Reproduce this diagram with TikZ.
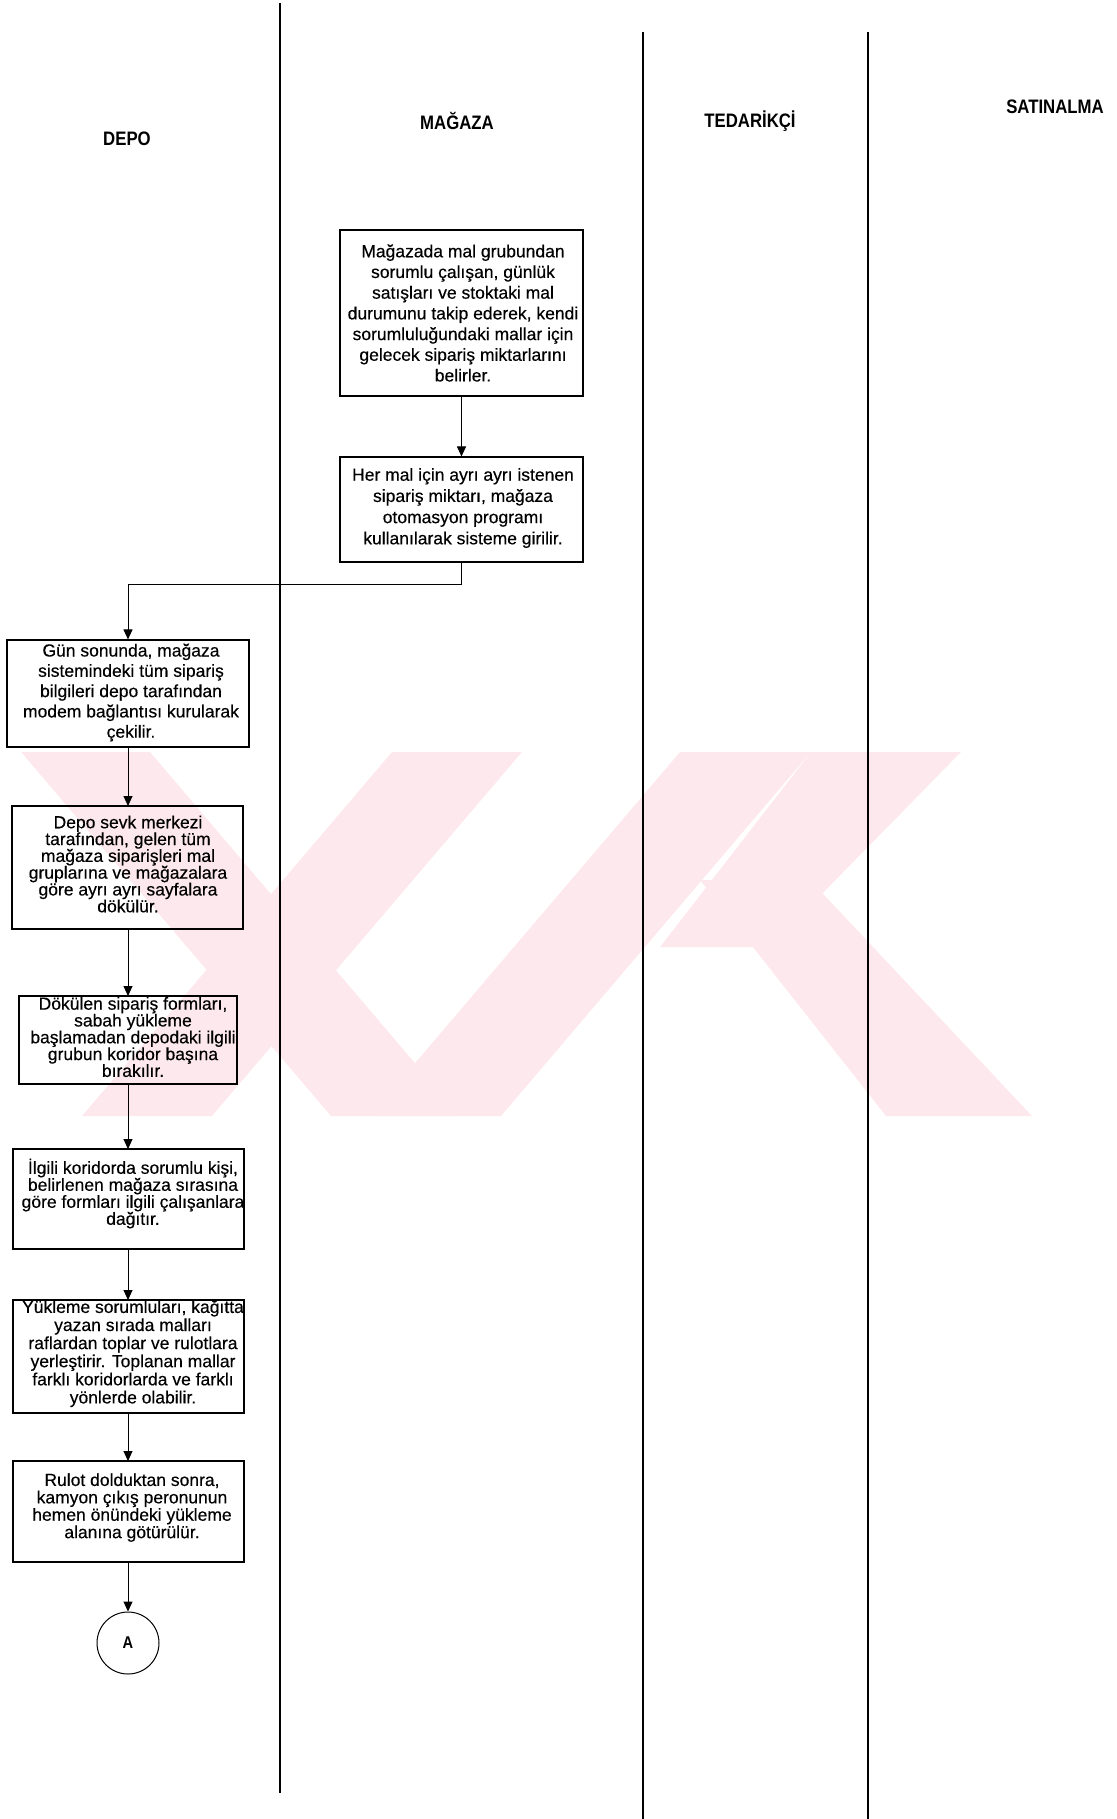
\documentclass[tikz,border=0pt]{standalone}
\usepackage{fontspec}
\setmainfont{Liberation Sans}
\newfontfamily\boxfont[FakeBold=0.35]{Liberation Sans}
\newfontfamily\headfont[FakeStretch=0.86]{Liberation Sans Bold}
\usetikzlibrary{arrows.meta}

\definecolor{wmpink}{RGB}{253,233,237}

\tikzset{
  lane/.style={line width=1.3pt, black},
  lanehead/.style={font=\headfont\fontsize{19.5}{21}\selectfont, inner sep=0pt},
  procbox/.style={draw, line width=1.1pt, rectangle, inner sep=0pt},
  boxtext/.style={align=center, inner sep=0pt, font=\boxfont\fontsize{17.5}{#1}\selectfont},
  boxtext/.default=20.5,
  flow/.style={line width=1.0pt, -{Triangle[length=10pt,width=9pt]}},
  connector/.style={draw, circle, line width=1.0pt, minimum size=62pt, inner sep=0pt, font=\headfont\fontsize{17}{19}\selectfont},
}

\begin{document}
\begin{tikzpicture}[x=1pt, y=-1pt]
\useasboundingbox (0,0) rectangle (1116,1819);

% faint background emblem
\begin{scope}[fill=wmpink]
  \fill (21,752) -- (150,752) -- (460,1116) -- (331,1116) -- cycle;
  \fill (392,752) -- (522,752) -- (212,1116) -- (82,1116) -- cycle;
  \fill (680,752) -- (811,752) -- (501,1116) -- (370,1116) -- cycle;
  \fill (811,752) -- (961,752) -- (770,947) -- (660,947) -- cycle;
  \fill (700,880) -- (810,880) -- (1032,1116) -- (886,1116) -- cycle;
\end{scope}

% swimlane separators
\coordinate (l1t) at (280,3);   \coordinate (l1b) at (280,1793);
\coordinate (l2t) at (643,32);  \coordinate (l2b) at (643,1819);
\coordinate (l3t) at (868,32);  \coordinate (l3b) at (868,1819);
\draw[lane] (l1t) -- (l1b);
\draw[lane] (l2t) -- (l2b);
\draw[lane] (l3t) -- (l3b);

% lane titles
\node[lanehead] (hdepo) at (127,139) {DEPO};
\node[lanehead] (hmagaza) at (457,121) {MAĞAZA};
\node[lanehead] (htedarikci) at (750,121) {TEDARİKÇİ};
\node[lanehead] (hsatinalma) at (1055,107) {SATINALMA};

% MAĞAZA lane
\node[procbox, minimum width=243pt, minimum height=166pt] (m1) at (461.5,313) {};
\node[boxtext=20.7] (m1t) at (463,313) {Mağazada mal grubundan\\sorumlu çalışan, günlük\\satışları ve stoktaki mal\\durumunu takip ederek, kendi\\sorumluluğundaki mallar için\\gelecek sipariş miktarlarını\\belirler.};

\node[procbox, minimum width=243pt, minimum height=105pt] (m2) at (461.5,509.5) {};
\node[boxtext=21.2] (m2t) at (463,508) {Her mal için ayrı ayrı istenen\\sipariş miktarı, mağaza\\otomasyon programı\\kullanılarak sisteme girilir.};

% DEPO lane
\node[procbox, minimum width=242pt, minimum height=107pt] (d1) at (128,693.5) {};
\node[boxtext=20.3] (d1t) at (131,692.5) {Gün sonunda, mağaza\\sistemindeki tüm sipariş\\bilgileri depo tarafından\\modem bağlantısı kurularak\\çekilir.};

\node[procbox, minimum width=231pt, minimum height=123pt] (d2) at (127.5,867.5) {};
\node[boxtext=16.8] (d2t) at (128,864) {Depo sevk merkezi\\tarafından, gelen tüm\\mağaza siparişleri mal\\gruplarına ve mağazalara\\göre ayrı ayrı sayfalara\\dökülür.};

\node[procbox, minimum width=218pt, minimum height=88pt] (d3) at (128,1040) {};
\node[boxtext=16.8] (d3t) at (133,1037) {Dökülen sipariş formları,\\sabah yükleme\\başlamadan depodaki ilgili\\grubun koridor başına\\bırakılır.};

\node[procbox, minimum width=231pt, minimum height=100pt] (d4) at (128.5,1199) {};
\node[boxtext=17] (d4t) at (133,1193.5) {İlgili koridorda sorumlu kişi,\\belirlenen mağaza sırasına\\göre formları ilgili çalışanlara\\dağıtır.};

\node[procbox, minimum width=231pt, minimum height=113pt] (d5) at (128.5,1356.5) {};
\node[boxtext=18.1] (d5t) at (133,1353.5) {Yükleme sorumluları, kağıtta\\yazan sırada malları\\raflardan toplar ve rulotlara\\yerleştirir. Toplanan mallar\\farklı koridorlarda ve farklı\\yönlerde olabilir.};

\node[procbox, minimum width=231pt, minimum height=101pt] (d6) at (128.5,1511.5) {};
\node[boxtext=17.4] (d6t) at (132,1507.5) {Rulot dolduktan sonra,\\kamyon çıkış peronunun\\hemen önündeki yükleme\\alanına götürülür.};

\node[connector] (ca) at (128,1643) {A};

% flow arrows
\draw[flow] (m1.south) -- (m1.south |- m2.north);
\coordinate (bend1) at (m2.south |- 0,584);
\coordinate (bend2) at (128,584);
\draw[flow] (m2.south) -- (bend1) -- (bend2) -- (bend2 |- d1.north);
\draw[flow] (128,747) -- (128,806);
\draw[flow] (d2.south -| 128,0) -- (128,996);
\draw[flow] (d3.south -| 128,0) -- (128,1149);
\draw[flow] (d4.south -| 128,0) -- (128,1300);
\draw[flow] (d5.south -| 128,0) -- (128,1461);
\draw[flow] (d6.south -| 128,0) -- (ca.north);
\end{tikzpicture}
\end{document}
